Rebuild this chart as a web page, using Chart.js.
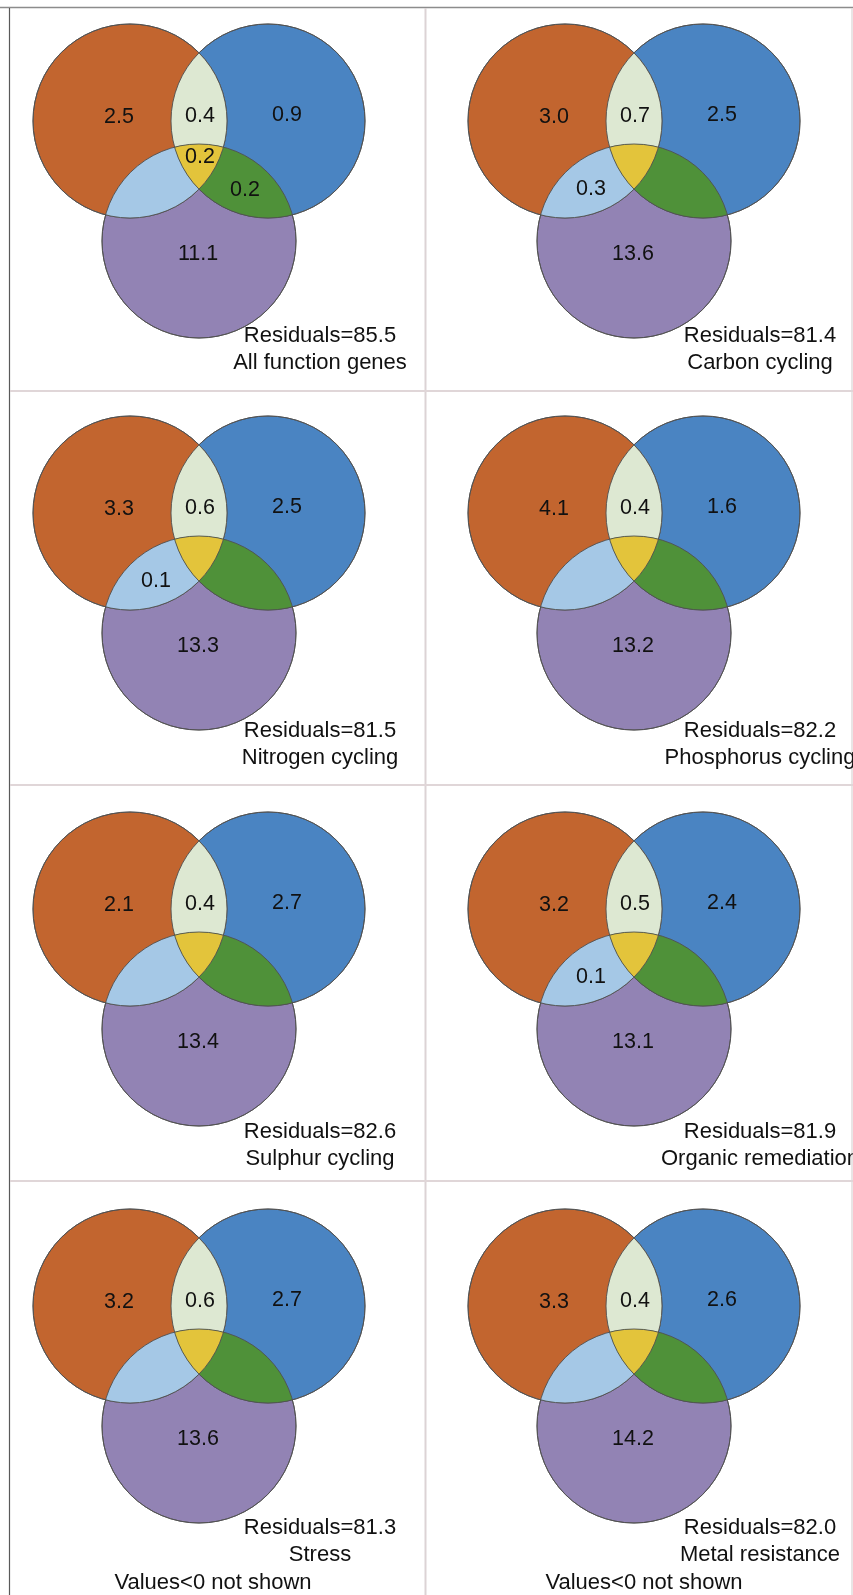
<!DOCTYPE html>
<html>
<head>
<meta charset="utf-8">
<script src="https://cdn.jsdelivr.net/npm/chart.js@4.4.1/dist/chart.umd.min.js"></script>
<style>
  html, body { margin: 0; padding: 0; background: #ffffff; }
  #wrap { position: relative; width: 853px; height: 1595px; }
  canvas { display: block; }
</style>
</head>
<body>
<div id="wrap"><canvas id="c" width="853" height="1595"></canvas></div>
<script>
// ---------------- DATA ----------------
const categories = ['All function genes', 'Carbon cycling', 'Nitrogen cycling', 'Phosphorus cycling',
                    'Sulphur cycling', 'Organic remediation', 'Stress', 'Metal resistance'];
const residuals = [85.5, 81.4, 81.5, 82.2, 82.6, 81.9, 81.3, 82.0];
const onlyA = [2.5, 3.0, 3.3, 4.1, 2.1, 3.2, 3.2, 3.3];         // orange only
const onlyB = [0.9, 2.5, 2.5, 1.6, 2.7, 2.4, 2.7, 2.6];         // blue only
const onlyC = [11.1, 13.6, 13.3, 13.2, 13.4, 13.1, 13.6, 14.2]; // purple only
const sharedAB = [0.4, 0.7, 0.6, 0.4, 0.4, 0.5, 0.6, 0.4];
const sharedAC = [null, 0.3, 0.1, null, null, 0.1, null, null];
const sharedBC = [0.2, null, null, null, null, null, null, null];
const sharedABC = [0.2, null, null, null, null, null, null, null];
const footnote = 'Values<0 not shown';

// ---------------- LAYOUT (data units = page pixels) ----------------
const colX = [0, 435];
const rowY = [0, 392, 788, 1185];
const circleR = 97;
const circleCenters = { A: [130, 121], B: [268, 121], C: [199, 241] };
const labelPos = {
  A: [119, 117], AB: [200, 116], B: [287, 115],
  AC: [156, 189], ABC: [200, 157], BC: [245, 190], C: [198, 254]
};
const captionX = [320, 760];
const captionY = [336, 339, 344, 343], captionGap = 27;
const footX = [213, 644], footY = 1583;

const colors = {
  A: '#c2652f', B: '#4a84c2', C: '#9283b4',
  AB: '#dde8d2', AC: '#a5c8e6', BC: '#4f9139', ABC: '#e3c43b',
  edge: '#505050', text: '#111111'
};
const FONT = '"Liberation Sans", Arial, Helvetica, sans-serif';

function panelOrigin(i) { return [colX[i % 2], rowY[Math.floor(i / 2)]]; }
function centersFor(key) {
  return categories.map((_, i) => {
    const o = panelOrigin(i);
    return { x: o[0] + circleCenters[key][0], y: o[1] + circleCenters[key][1] };
  });
}
function pxRadius(chart) {
  const s = chart.scales.x;
  if (!s || !s.width) return 0;
  return s.getPixelForValue(circleR) - s.getPixelForValue(0);
}

const vennPlugin = {
  id: 'venn',
  beforeDatasetsDraw(chart) {
    const ctx = chart.ctx, x = chart.scales.x, y = chart.scales.y;
    ctx.save();
    ctx.strokeStyle = '#8c8c8c'; ctx.lineWidth = 1.5;
    ctx.beginPath(); ctx.moveTo(0, y.getPixelForValue(7.5)); ctx.lineTo(853, y.getPixelForValue(7.5)); ctx.stroke();
    ctx.strokeStyle = '#5a5a5a'; ctx.lineWidth = 1.2;
    ctx.beginPath(); ctx.moveTo(x.getPixelForValue(9.5), y.getPixelForValue(8)); ctx.lineTo(x.getPixelForValue(9.5), 1595); ctx.stroke();
    ctx.strokeStyle = '#dcd3d5'; ctx.lineWidth = 2;
    ctx.beginPath(); ctx.moveTo(x.getPixelForValue(425.5), y.getPixelForValue(8)); ctx.lineTo(x.getPixelForValue(425.5), 1595); ctx.stroke();
    ctx.strokeStyle = '#e2dcdd'; ctx.lineWidth = 1.5;
    ctx.beginPath(); ctx.moveTo(x.getPixelForValue(852), y.getPixelForValue(8)); ctx.lineTo(x.getPixelForValue(852), 1595); ctx.stroke();
    ctx.strokeStyle = '#e0d6d8'; ctx.lineWidth = 2;
    [391, 785, 1181].forEach(v => {
      ctx.beginPath(); ctx.moveTo(x.getPixelForValue(10), y.getPixelForValue(v)); ctx.lineTo(853, y.getPixelForValue(v)); ctx.stroke();
    });
    ctx.restore();
  },
  afterDatasetsDraw(chart) {
    const ctx = chart.ctx, x = chart.scales.x, y = chart.scales.y;
    const r = pxRadius(chart);
    const metaA = chart.getDatasetMeta(0), metaB = chart.getDatasetMeta(1), metaC = chart.getDatasetMeta(2);
    const circ = (el) => { ctx.beginPath(); ctx.arc(el.x, el.y, r, 0, Math.PI * 2); };
    const fillIntersect = (els, color) => {
      ctx.save();
      els.forEach(el => { circ(el); ctx.clip(); });
      ctx.fillStyle = color;
      ctx.fillRect(0, 0, chart.width, chart.height);
      ctx.restore();
    };
    categories.forEach((_, i) => {
      const a = metaA.data[i], b = metaB.data[i], c = metaC.data[i];
      fillIntersect([a, b], colors.AB);
      fillIntersect([a, c], colors.AC);
      fillIntersect([b, c], colors.BC);
      fillIntersect([a, b, c], colors.ABC);
      ctx.save();
      ctx.strokeStyle = colors.edge; ctx.lineWidth = 0.9;
      [a, b, c].forEach(el => { circ(el); ctx.stroke(); });
      ctx.restore();

      const o = panelOrigin(i);
      const row = Math.floor(i / 2);
      const vals = { A: onlyA[i], AB: sharedAB[i], B: onlyB[i], AC: sharedAC[i], ABC: sharedABC[i], BC: sharedBC[i], C: onlyC[i] };
      ctx.save();
      ctx.fillStyle = colors.text;
      ctx.font = '21.5px ' + FONT;
      ctx.textAlign = 'center'; ctx.textBaseline = 'middle';
      Object.keys(vals).forEach(k => {
        const v = vals[k];
        if (v === null || v === undefined) return;
        ctx.fillText(v.toFixed(1), x.getPixelForValue(o[0] + labelPos[k][0]), y.getPixelForValue(o[1] + labelPos[k][1]));
      });
      ctx.font = '22px ' + FONT;
      const cx = x.getPixelForValue(captionX[i % 2]);
      ctx.fillText('Residuals=' + residuals[i].toFixed(1), cx, y.getPixelForValue(o[1] + captionY[row]));
      ctx.fillText(categories[i], cx, y.getPixelForValue(o[1] + captionY[row] + captionGap));
      ctx.restore();
    });
    ctx.save();
    ctx.fillStyle = colors.text; ctx.font = '22px ' + FONT;
    ctx.textAlign = 'center'; ctx.textBaseline = 'middle';
    footX.forEach(fx => ctx.fillText(footnote, x.getPixelForValue(fx), y.getPixelForValue(footY)));
    ctx.restore();
  }
};

const radiusFn = (ctx) => pxRadius(ctx.chart);
function circleDataset(key) {
  return {
    label: key, data: centersFor(key), showLine: false,
    pointRadius: radiusFn, pointHoverRadius: radiusFn,
    pointBackgroundColor: colors[key], pointBorderColor: colors.edge, pointBorderWidth: 0.9,
    pointHitRadius: 0
  };
}

new Chart(document.getElementById('c'), {
  type: 'scatter',
  data: { datasets: [circleDataset('A'), circleDataset('B'), circleDataset('C')] },
  options: {
    responsive: false,
    animation: false,
    events: [],
    clip: false,
    layout: { padding: 0 },
    plugins: { legend: { display: false }, tooltip: { enabled: false }, title: { display: false } },
    scales: {
      x: { type: 'linear', min: 0, max: 853, display: false },
      y: { type: 'linear', min: 0, max: 1595, reverse: true, display: false }
    }
  },
  plugins: [vennPlugin]
});
</script>
</body>
</html>
